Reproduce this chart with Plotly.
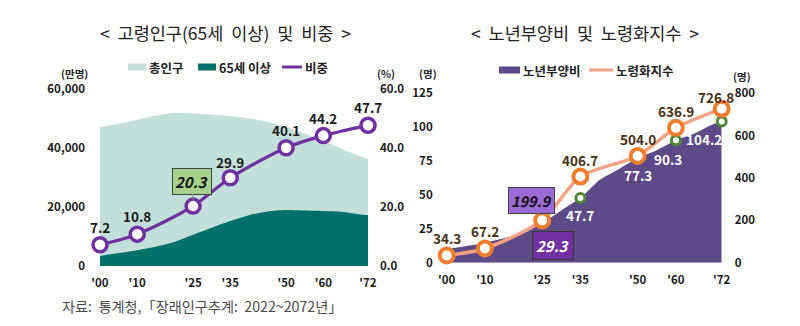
import plotly.graph_objects as go

# ---- data -------------------------------------------------------------
label_years = [2000, 2010, 2025, 2035, 2050, 2060, 2072]
year_ticks = ["'00", "'10", "'25", "'35", "'50", "'60", "'72"]

# population (만명) by year
pop_years = [2000, 2005, 2010, 2015, 2020, 2025, 2030, 2035, 2040, 2045,
             2050, 2055, 2060, 2065, 2070, 2072]
total_pop = [47008, 48185, 49554, 51015, 51836, 51684, 51306, 50869, 50059,
             48934, 47107, 44891, 42304, 39692, 37182, 36222]
elderly_pop = [3395, 4367, 5366, 6541, 8152, 10585, 12980, 15289, 17245,
               18510, 19004, 18837, 18682, 18400, 17473, 17271]
elderly_share = [7.2, 10.8, 20.3, 29.9, 40.1, 44.2, 47.7]  # %

# old-age dependency ratio (per 100 working-age) and aging index
dep_years = [2000, 2010, 2020, 2025, 2030, 2035, 2040, 2045, 2050, 2055,
             2060, 2065, 2070, 2072]
dep_ratio = [10.1, 14.8, 21.8, 29.3, 38.6, 47.7, 61.0, 69.0, 77.3, 83.0,
             90.3, 95.5, 102.5, 104.2]
dep_marked_years = [2025, 2035, 2050, 2060, 2072]
aging_index = [34.3, 67.2, 199.9, 406.7, 504.0, 636.9, 726.8]

# ---- layout helpers -----------------------------------------------------
W, H = 800, 326
FONT = "Noto Sans CJK KR"


def px(x):
    return x / W


def py(y):
    return 1 - y / H


BOLD = dict(family=FONT, size=11.5, color="#1a1a1a", weight=700)

fig = go.Figure()

# left chart: population areas
fig.add_trace(go.Scatter(
    x=pop_years, y=total_pop, mode="lines", fill="tozeroy",
    line=dict(width=0, shape="spline", smoothing=0.6),
    fillcolor="#C3DFDA", xaxis="x", yaxis="y", name="총인구"))
fig.add_trace(go.Scatter(
    x=pop_years, y=elderly_pop, mode="lines", fill="tozeroy",
    line=dict(width=0, shape="spline", smoothing=0.6),
    fillcolor="#00706B", xaxis="x", yaxis="y", name="65세 이상"))
fig.add_trace(go.Scatter(
    x=label_years, y=elderly_share, mode="lines+markers",
    line=dict(color="#7030A0", width=3.2, shape="spline", smoothing=0.8),
    marker=dict(size=14, color="white", line=dict(color="#7030A0", width=3.5)),
    cliponaxis=False, xaxis="x", yaxis="y2", name="비중"))

# right chart: dependency ratio area and aging index line
fig.add_trace(go.Scatter(
    x=dep_years, y=dep_ratio, mode="lines", fill="tozeroy",
    line=dict(width=0, shape="spline", smoothing=0.6),
    fillcolor="#5D4A87", xaxis="x2", yaxis="y3", name="노년부양비"))
dep_lookup = dict(zip(dep_years, dep_ratio))
fig.add_trace(go.Scatter(
    x=dep_marked_years, y=[dep_lookup[y] for y in dep_marked_years],
    mode="markers",
    marker=dict(size=9, color="white", line=dict(color="#4E8A35", width=3)),
    cliponaxis=False, xaxis="x2", yaxis="y3", showlegend=False))
fig.add_trace(go.Scatter(
    x=label_years, y=aging_index, mode="lines+markers",
    line=dict(color="#F4A283", width=3.5, shape="spline", smoothing=0.8),
    marker=dict(size=14, color="white", line=dict(color="#EE7D2E", width=4)),
    cliponaxis=False, xaxis="x2", yaxis="y4", name="노령화지수"))

annotations = []
shapes = []

# titles
annotations.append(dict(x=px(225), y=py(33), xref="paper", yref="paper",
                        text="&lt;&nbsp; 고령인구(65세&nbsp; 이상)&nbsp; 및&nbsp; 비중&nbsp; &gt;",
                        showarrow=False, xanchor="center", yanchor="middle",
                        font=dict(family=FONT, size=17.5, color="#222")))
annotations.append(dict(x=px(585), y=py(33), xref="paper", yref="paper",
                        text="&lt;&nbsp; 노년부양비&nbsp; 및&nbsp; 노령화지수&nbsp; &gt;",
                        showarrow=False, xanchor="center", yanchor="middle",
                        font=dict(family=FONT, size=17.5, color="#222")))

# unit labels
for x, y, t in [(74, 73, "(만명)"), (386, 73, "(%)"),
                (428, 73, "(명)"), (742, 76, "(명)")]:
    annotations.append(dict(x=px(x), y=py(y), xref="paper", yref="paper",
                            text=t, showarrow=False, xanchor="center",
                            yanchor="middle",
                            font=dict(family=FONT, size=10.5, color="#222",
                                      weight=700)))

# hand-placed legends
LEG = dict(family=FONT, size=12.5, color="#222", weight=700)
legend_items = [
    ("rect", 128, 146, 67, "#C3DFDA", "총인구"),
    ("rect", 198, 216, 67, "#00706B", "65세 이상"),
    ("line", 282, 302, 67, "#7030A0", "비중"),
    ("rect", 499, 520, 70, "#5D4A87", "노년부양비"),
    ("line", 589, 613, 70, "#F4A283", "노령화지수"),
]
for kind, x0, x1, yc, col, txt in legend_items:
    if kind == "rect":
        shapes.append(dict(type="rect", xref="paper", yref="paper",
                           x0=px(x0), x1=px(x1), y0=py(yc + 3.5), y1=py(yc - 3.5),
                           fillcolor=col, line=dict(width=0)))
    else:
        shapes.append(dict(type="line", xref="paper", yref="paper",
                           x0=px(x0), x1=px(x1), y0=py(yc), y1=py(yc),
                           line=dict(color=col, width=3)))
    annotations.append(dict(x=px(x1 + 1), y=py(yc), xref="paper", yref="paper",
                            text=txt, showarrow=False, xanchor="left",
                            yanchor="middle", font=LEG))

# share labels (left chart)
VAL = dict(family=FONT, size=13.5, color="#1a1a1a", weight=700)
for yr, v in zip(label_years, elderly_share):
    if yr == 2025:
        annotations.append(dict(
            x=yr, y=v, xref="x", yref="y2", text=f"<i>{v:.1f}</i>",
            showarrow=True, arrowhead=0, arrowwidth=1, arrowcolor="#8a8a8a",
            ax=-1, ay=-25, standoff=7, bgcolor="#A9D18E",
            bordercolor="#404040", borderwidth=1, borderpad=2,
            font=dict(family=FONT, size=15, color="#111", weight=700)))
    else:
        shift = 16 if yr == 2035 else 18
        annotations.append(dict(x=yr, y=v, xref="x", yref="y2",
                                text=f"{v:.1f}", showarrow=False,
                                yshift=shift, font=VAL))

# aging index labels (right chart)
IDX = dict(family=FONT, size=13.5, color="#4A2E14", weight=700)
for yr, v in zip(label_years, aging_index):
    if yr == 2025:
        annotations.append(dict(
            x=yr, y=v, xref="x2", yref="y4", text=f"<i>{v:.1f}</i>",
            showarrow=True, arrowhead=0, arrowwidth=1, arrowcolor="#9DC3E6",
            ax=-11, ay=-20, standoff=7, bgcolor="#9A6BD6",
            bordercolor="#404040", borderwidth=1, borderpad=2,
            font=dict(family=FONT, size=14.5, color="#111", weight=700)))
    else:
        shift = 12 if yr == 2072 else 17
        annotations.append(dict(x=yr, y=v, xref="x2", yref="y4",
                                text=f"{v:.1f}", showarrow=False,
                                xshift=-6 if yr == 2072 else 0,
                                yshift=shift, font=IDX))

# dependency ratio labels (right chart)
WHITE = dict(family=FONT, size=13.5, color="white", weight=700)
dep_offsets = {2025: (11, -23), 2035: (0, -17), 2050: (0, -17),
               2060: (-8, -19), 2072: (-18, -18)}
for yr in dep_marked_years:
    v = dep_lookup[yr]
    dx, dy = dep_offsets[yr]
    if yr == 2025:
        annotations.append(dict(
            x=yr, y=v, xref="x2", yref="y3", text=f"<i>{v:.1f}</i>",
            showarrow=False, xshift=dx, yshift=dy, bgcolor="#7030A0",
            bordercolor="#3a3a3a", borderwidth=1, borderpad=3,
            font=dict(family=FONT, size=15, color="white", weight=700)))
    else:
        annotations.append(dict(x=yr, y=v, xref="x2", yref="y3",
                                text=f"{v:.1f}", showarrow=False,
                                xshift=dx, yshift=dy, font=WHITE))

# source line
annotations.append(dict(x=px(60), y=py(306), xref="paper", yref="paper",
                        text="자료:&nbsp; 통계청,「장래인구추계:&nbsp; 2022~2072년」",
                        showarrow=False, xanchor="left", yanchor="middle",
                        font=dict(family=FONT, size=14.2, color="#4a4a4a")))

axis_common = dict(showgrid=False, zeroline=False, showline=False,
                   tickfont=BOLD, fixedrange=True, automargin=False)
# x axes: invisible outside ticks set the gap between plot and year labels
x_ticks = dict(ticks="outside", ticklen=6, tickcolor="rgba(0,0,0,0)")

fig.update_layout(
    width=W, height=H, margin=dict(l=0, r=0, t=0, b=0, pad=0, autoexpand=False),
    paper_bgcolor="white", plot_bgcolor="rgba(0,0,0,0)",
    showlegend=False, font=dict(family=FONT),
    xaxis=dict(domain=[px(100), px(368)], range=[2000, 2072], anchor="y",
               tickvals=label_years, ticktext=year_ticks,
               **x_ticks, **axis_common),
    yaxis=dict(domain=[py(266), py(89)], range=[0, 60000], anchor="x",
               tickvals=[0, 20000, 40000, 60000], tickformat=",", ticks="",
               ticklabelstandoff=14, **axis_common),
    yaxis2=dict(domain=[py(266), py(89)], range=[0, 60], anchor="x",
                overlaying="y", side="right", tickvals=[0, 20, 40, 60],
                tickformat=".1f", ticks="", ticklabelstandoff=11,
                **axis_common),
    xaxis2=dict(domain=[px(446.7), px(721.7)], range=[2000, 2072],
                anchor="y3", tickvals=label_years, ticktext=year_ticks,
                **x_ticks, **axis_common),
    yaxis3=dict(domain=[py(262.7), py(93.3)], range=[0, 125], anchor="x2",
                tickvals=[0, 25, 50, 75, 100, 125], ticks="",
                ticklabelstandoff=13, **axis_common),
    yaxis4=dict(domain=[py(262.7), py(93.3)], range=[0, 800], anchor="x2",
                overlaying="y3", side="right", ticks="",
                tickvals=[0, 200, 400, 600, 800], ticklabelstandoff=12,
                **axis_common),
    annotations=annotations, shapes=shapes,
)

fig.write_html("out.html")
